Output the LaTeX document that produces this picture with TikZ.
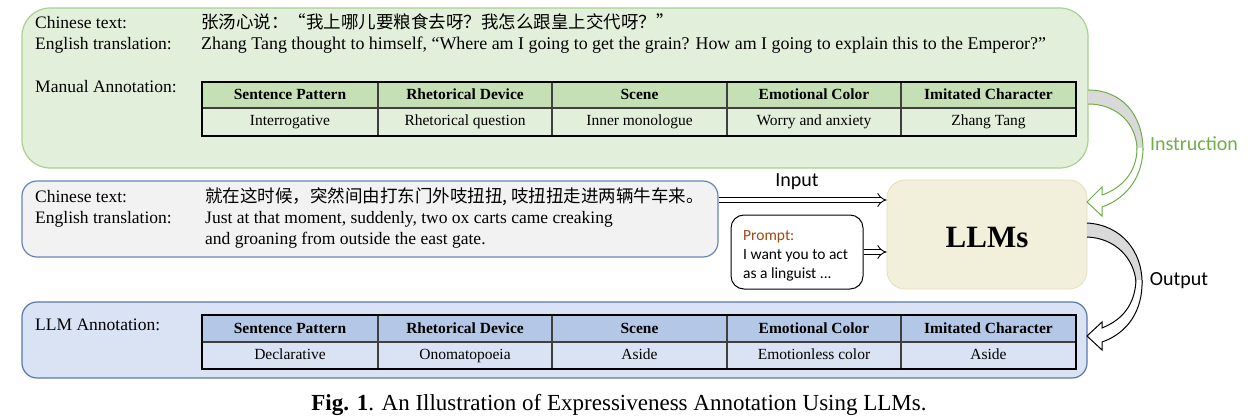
\documentclass[tikz,border=0pt]{standalone}
\usepackage{fontspec}
\setmainfont{Liberation Serif}
\newfontfamily\cjk{Noto Sans CJK SC}
\newfontfamily\calib{Carlito}
\usetikzlibrary{arrows.meta,calc}
\definecolor{gfill}{HTML}{E2EFDA}
\definecolor{gline}{HTML}{A9D18E}
\definecolor{ghead}{HTML}{C5E0B4}
\definecolor{grayfill}{HTML}{F2F2F2}
\definecolor{grayline}{HTML}{6585BA}
\definecolor{bfill}{HTML}{DAE3F3}
\definecolor{bline}{HTML}{5677AE}
\definecolor{bhead}{HTML}{B4C7E7}
\definecolor{llmfill}{HTML}{F2F0DA}
\definecolor{llmline}{HTML}{E2DEC2}
\definecolor{instr}{HTML}{70AD47}
\definecolor{promptc}{HTML}{9C4A12}
\definecolor{arrgray}{HTML}{D9D9D9}
\definecolor{innerl}{HTML}{3F3F3F}
\newcommand\annottable[7]{%
  \fill[#5] (202,#2) rectangle (1076,#3);
  \fill[#6] (202,#3) rectangle (1076,#4);
  \foreach \xa/\xb/\hd/\bd [count=\k] in {#7} {
    \node[headtxt] (#1h\k) at ({(\xa+\xb)/2},{(#2+#3)/2+2}) {\hd};
    \node[bodytxt] (#1b\k) at ({(\xa+\xb)/2},{(#3+#4)/2+1}) {\bd};
  }
  \foreach \xx in {378,552,727,901} \draw[innerl, line width=1.1pt] (\xx,#2) -- (\xx,#4);
  \draw[innerl, line width=1.3pt] (202,#3) -- (1076,#3);
  \draw[black, line width=1.4pt] (202,#2) rectangle (1076,#4);
}
\begin{document}
\begin{tikzpicture}[x=1pt,y=-1pt,
  lbl/.style={anchor=base west, inner sep=0pt, font=\fontsize{17.5}{21}\selectfont},
  headtxt/.style={inner sep=0pt, text height=0.7em, text depth=0.2em, font=\fontsize{15.5}{18}\selectfont\bfseries},
  bodytxt/.style={inner sep=0pt, text height=0.7em, text depth=0.2em, font=\fontsize{15.5}{18}\selectfont},
  gbox/.style={draw=gline, fill=gfill, line width=1.2pt, rounded corners=28pt, inner sep=0pt},
  graybox/.style={draw=grayline, fill=grayfill, line width=1.2pt, rounded corners=15pt, inner sep=0pt},
  bbox/.style={draw=bline, fill=bfill, line width=1.2pt, rounded corners=15pt, inner sep=0pt},
  llmbox/.style={draw=llmline, fill=llmfill, line width=0.8pt, rounded corners=18pt, inner sep=0pt},
  promptbox/.style={draw=black, fill=white, line width=1pt, rounded corners=13pt, inner sep=0pt},
  dblarrow/.style={double=white, double distance=4pt, line width=0.9pt, -{Implies[length=7pt]}},
  arrlbl/.style={inner sep=0pt, font=\calib\fontsize{20}{22}\selectfont},
  ptxt/.style={anchor=base west, inner sep=0pt, font=\calib\fontsize{15.5}{18}\selectfont}
]
\useasboundingbox (0,0) rectangle (1253,417);

% ---------- boxes ----------
\node[gbox, minimum width=1066pt, minimum height=160pt] (manual) at (555,88) {};
\node[graybox, minimum width=696pt, minimum height=76pt] (input) at (370,219) {};
\node[bbox, minimum width=1065pt, minimum height=76pt] (llmann) at (554.5,340) {};
\node[llmbox, minimum width=200pt, minimum height=109pt] (llm) at (987,234.5) {};
\node[promptbox, minimum width=132pt, minimum height=74pt] (prompt) at (797,252) {};

% ---------- top box texts ----------
\node[lbl] (t1) at (35,29) {Chinese text:};
\node[lbl] (t2) at (35,50) {English translation:};
\node[lbl] (t3) at (201,29) {\cjk 张汤心说：“我上哪儿要粮食去呀？我怎么跟皇上交代呀？”};
\node[lbl, font=\fontsize{17.9}{21}\selectfont] (t4) at (201,50) {Zhang Tang thought to himself, “Where am I going to get the grain? How am I going to explain this to the Emperor?”};
\node[lbl] (t5) at (35,93) {Manual Annotation:};
\annottable{m}{82}{108}{136}{ghead}{gfill}{202/378/Sentence Pattern/Interrogative, 378/552/Rhetorical Device/Rhetorical question, 552/727/Scene/Inner monologue, 727/901/Emotional Color/Worry and anxiety, 901/1076/Imitated Character/Zhang Tang}

% ---------- input box texts ----------
\node[lbl] (i1) at (35,202) {Chinese text:};
\node[lbl] (i2) at (35,223) {English translation:};
\node[lbl] (i3) at (205,202) {\cjk 就在这时候，突然间由打东门外吱扭扭, 吱扭扭走进两辆牛车来。};
\node[lbl] (i4) at (205,223) {Just at that moment, suddenly, two ox carts came creaking};
\node[lbl] (i5) at (205,244) {and groaning from outside the east gate.};

% ---------- LLM annotation ----------
\node[lbl] (l1) at (35,330) {LLM Annotation:};
\annottable{l}{315}{342}{369}{bhead}{bfill}{202/378/Sentence Pattern/Declarative, 378/552/Rhetorical Device/Onomatopoeia, 552/727/Scene/Aside, 727/901/Emotional Color/Emotionless color, 901/1076/Imitated Character/Aside}

% ---------- LLM + prompt ----------
\node[inner sep=0pt, anchor=base, font=\fontsize{31}{34}\selectfont\bfseries] (llmtxt) at (987,247) {LLMs};
\node[ptxt, text=promptc] (p1) at (743,240) {Prompt:};
\node[ptxt] (p2) at (743,259) {I want you to act};
\node[ptxt] (p3) at (743,278) {as a linguist ...};

% ---------- straight arrows ----------
\coordinate (inY) at (0,200);
\draw[dblarrow] (input.north east |- inY) -- (llm.west |- inY);
\node[arrlbl] (inlbl) at (797,182) {Input};
\draw[dblarrow] (prompt.east) -- (llm.west |- prompt.east);

% ---------- instruction curved arrow ----------
\draw[instr, line width=1pt, fill=arrgray] (1088,90) .. controls (1122,90) and (1143,115) .. (1143,150) -- (1137,150) .. controls (1137,125) and (1118,104) .. (1088,104);
\draw[instr, line width=1pt, fill=white] (1137,148) .. controls (1137,172) and (1122,188) .. (1102,195) -- (1102,187) -- (1087,202) -- (1102,216) -- (1102,207) .. controls (1128,198) and (1143,175) .. (1143,148);
\node[arrlbl, text=instr] (instrlbl) at (1194,144) {Instruction};

% ---------- output curved arrow ----------
\draw[black, line width=1pt, fill=arrgray] (1087,223) .. controls (1122,225) and (1142,252) .. (1142,282) -- (1136,282) .. controls (1134,258) and (1115,238) .. (1087,237);
\draw[black, line width=1pt, fill=white] (1136,280) .. controls (1135,305) and (1122,320) .. (1102,328) -- (1102,322) -- (1087,336) -- (1102,350) -- (1102,342) .. controls (1128,333) and (1143,310) .. (1142,280);
\node[arrlbl] (outlbl) at (1179,281) {Output};

% ---------- caption ----------
\node[anchor=base, inner sep=0pt, font=\fontsize{23}{26}\selectfont] (caption) at (619,410) {\textbf{Fig. 1}. An Illustration of Expressiveness Annotation Using LLMs.};
\end{tikzpicture}
\end{document}
